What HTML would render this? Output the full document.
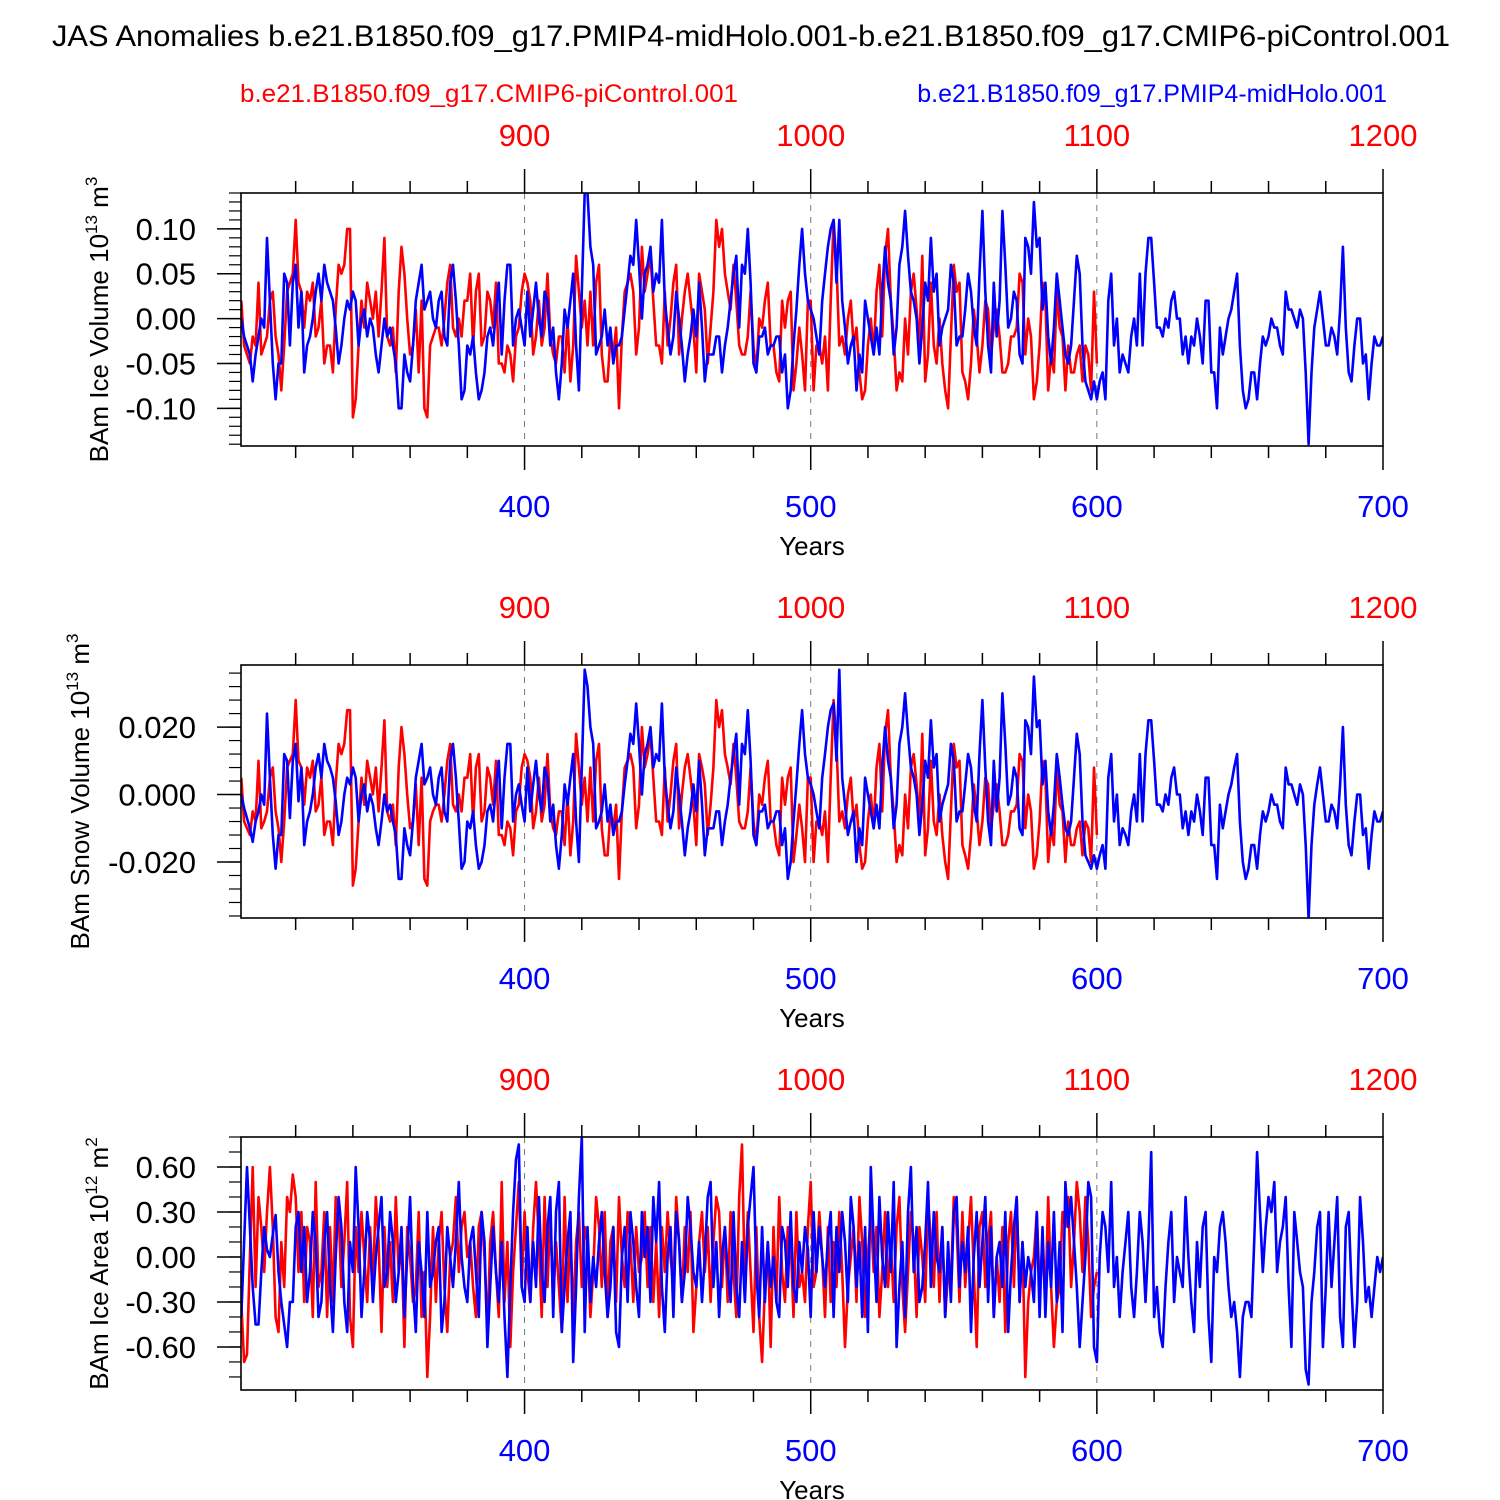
<!DOCTYPE html>
<html><head><meta charset="utf-8"><style>
html,body{margin:0;padding:0;background:#fff;}
svg{display:block;font-family:"Liberation Sans",sans-serif;}
</style></head><body>
<svg id="chart" width="1500" height="1500" viewBox="0 0 1500 1500" xmlns="http://www.w3.org/2000/svg">
<text x="751" y="46" font-size="30" text-anchor="middle" textLength="1398" lengthAdjust="spacingAndGlyphs">JAS Anomalies b.e21.B1850.f09_g17.PMIP4-midHolo.001-b.e21.B1850.f09_g17.CMIP6-piControl.001</text>
<text x="240" y="102" font-size="25" fill="#ff0000" textLength="498" lengthAdjust="spacingAndGlyphs">b.e21.B1850.f09_g17.CMIP6-piControl.001</text>
<text x="1387" y="102" font-size="25" fill="#0000ff" text-anchor="end">b.e21.B1850.f09_g17.PMIP4-midHolo.001</text>
</svg>
<script>
// Years
const blueStart = 301;
const redStart = 801;
// Panel 1: ice volume (hundredths of 1e13 m3)
const iceVolBlue = [0,-2,-3,-4,-7,-4,-2,0,-1,9,2,-5,-9,-5,-5,5,4,-3,4,6,
-1,3,-6,-3,-2,0,3,5,2,6,4,3,2,-1,-5,-3,0,2,1,3,
2,-3,0,1,-2,0,-1,-4,-6,-3,0,-2,-1,-3,-5,-10,-10,-4,-6,-7,
-3,2,4,6,1,2,3,0,-1,2,3,-2,-3,4,6,2,-3,-9,-8,-3,
-4,-2,-6,-9,-8,-6,-2,-1,-3,1,4,-4,2,6,6,-3,0,1,-1,-3,
3,-2,1,4,0,-2,3,2,-3,-1,-6,-9,-5,1,-1,2,5,-3,-8,3,
14,14,8,6,-4,-3,-2,1,-3,-1,-5,-3,-3,-2,1,4,7,6,11,6,
0,5,6,8,3,5,4,11,2,-1,-4,-2,3,0,-3,-7,-4,-2,1,-2,
4,-1,-7,-4,-4,-4,-2,-2,-6,-3,-1,2,5,7,-1,6,5,10,4,-5,
-6,-2,-2,-1,-4,-3,-3,-2,-2,-6,-4,-10,-8,-3,1,6,10,5,2,1,
0,-2,-4,2,5,8,10,11,4,11,2,-1,-5,-3,-2,-8,-4,-6,2,0,
-2,-4,-1,-4,3,8,4,2,-4,-1,6,8,12,7,3,2,0,-5,-1,4,
2,9,3,5,-3,-1,0,1,6,4,-3,-2,-2,1,5,3,-1,-3,5,12,
3,-3,-6,4,-2,2,12,6,-1,0,3,2,-4,-5,9,8,5,13,8,9,
1,4,-2,-5,-1,5,2,-1,-4,-5,-3,2,7,5,-3,-7,-8,-9,-7,-9,
-7,-6,-9,2,5,-3,0,-6,-4,-5,-6,-2,0,-3,5,-3,5,9,9,4,
-1,-1,-2,0,-1,2,3,0,0,-4,-2,-5,-2,-3,0,-2,-5,2,2,-6,
-6,-10,-1,-4,-2,0,1,3,5,-3,-8,-10,-9,-6,-6,-9,-5,-2,-3,-2,
0,-1,-1,-3,-4,3,1,1,0,-1,1,0,-6,-14,-6,-1,1,3,0,-3,
-3,-1,-2,-4,1,8,-1,-6,-7,-3,0,0,-5,-4,-9,-5,-2,-3,-3,-2];
const iceVolRed = [2,-3,-4,-5,-2,-3,4,-4,-3,-2,2,3,-2,-4,-8,-3,3,4,5,11,
4,3,-1,3,2,4,-2,-1,2,-5,-3,-3,-6,1,6,5,6,10,10,-11,
-9,-3,2,-1,4,2,0,3,-2,3,9,-2,-3,-1,-6,3,8,5,0,-4,
-3,1,-6,2,-10,-11,-3,-2,-1,-1,-3,0,4,6,-1,-2,0,-2,2,2,
5,-3,3,5,-3,-2,3,2,-1,4,-5,-5,-6,-3,-4,-7,-2,-1,3,5,
4,2,-4,-2,2,-3,-1,5,-2,-4,-5,-2,-2,-6,0,-7,-3,7,3,-1,
2,-3,3,-3,4,6,-4,-7,-7,-2,-4,-1,-10,-2,3,4,5,3,-4,-1,
8,3,5,7,2,-3,-3,-5,3,-3,0,4,6,-4,0,3,5,2,-1,-6,
5,3,1,-5,-1,3,11,8,10,5,3,1,6,2,-3,-4,-4,-2,3,-3,
-6,0,-1,2,4,-3,-3,-6,-7,2,-1,2,3,-8,-5,-1,-4,-8,2,2,
-8,-3,-3,-5,-2,-8,2,11,6,-3,-2,-4,0,2,-3,-1,-6,-9,-8,-3,
0,-4,3,6,-2,7,10,2,-2,-8,-6,-7,0,-4,3,5,1,-3,7,-7,
-4,4,-3,-5,0,-5,-8,-10,-2,6,3,4,-6,-7,-9,-5,1,-2,-6,-3,
2,1,-4,-1,1,-2,-6,-6,-5,-2,-2,-1,5,4,-4,0,-2,-9,-7,-3,
4,2,-8,-4,-6,3,-1,-2,-8,-3,-6,-6,-4,-3,-7,-3,-4,-8,3,-5];
// Panel 2: snow volume (thousandths of 1e13 m3)
const snowVolBlue = [0,-4,-7,-10,-14,-8,-5,0,-3,24,5,-12,-22,-12,-12,12,10,-7,10,15,
-2,8,-15,-8,-5,0,8,12,5,15,10,8,5,-2,-12,-8,0,5,3,8,
5,-8,0,3,-5,0,-3,-10,-15,-8,0,-5,-3,-8,-12,-25,-25,-10,-15,-18,
-8,5,10,15,3,5,8,0,-3,5,8,-5,-8,10,15,5,-8,-22,-20,-8,
-10,-5,-15,-22,-20,-15,-5,-3,-8,3,10,-10,5,15,15,-8,0,3,-3,-8,
8,-5,3,10,0,-5,8,5,-8,-3,-15,-22,-12,3,-3,5,12,-8,-20,8,
37,32,20,15,-10,-8,-5,3,-8,-3,-12,-8,-8,-5,3,10,18,15,27,15,
0,12,15,20,8,12,10,27,5,-3,-10,-5,8,0,-8,-18,-10,-5,3,-5,
10,-3,-18,-10,-10,-10,-5,-5,-15,-8,-3,5,12,18,-3,15,12,25,10,-12,
-15,-5,-5,-3,-10,-8,-8,-5,-5,-15,-10,-25,-20,-8,3,15,25,12,5,3,
0,-5,-10,5,12,20,25,27,10,37,5,-3,-12,-8,-5,-20,-10,-15,5,0,
-5,-10,-3,-10,8,20,10,5,-10,-3,15,20,30,18,8,5,0,-12,-3,10,
5,22,8,12,-8,-3,0,3,15,10,-8,-5,-5,3,12,8,-3,-8,12,28,
8,-8,-15,10,-5,5,30,15,-3,0,8,5,-10,-12,22,20,12,35,20,22,
3,10,-5,-12,-3,12,5,-3,-10,-12,-8,5,18,12,-8,-18,-20,-22,-18,-22,
-18,-15,-22,5,12,-8,0,-15,-10,-12,-15,-5,0,-8,12,-8,12,22,22,10,
-3,-3,-5,0,-3,5,8,0,0,-10,-5,-12,-5,-8,0,-5,-12,5,5,-15,
-15,-25,-3,-10,-5,0,3,8,12,-8,-20,-25,-22,-15,-15,-22,-12,-5,-8,-5,
0,-3,-3,-8,-10,8,3,3,0,-3,3,0,-15,-37,-15,-3,3,8,0,-8,
-8,-3,-5,-10,3,20,-3,-15,-18,-8,0,0,-12,-10,-22,-12,-5,-8,-8,-5];
const snowVolRed = [5,-8,-10,-12,-5,-8,10,-10,-8,-5,5,8,-5,-10,-20,-8,8,10,12,28,
10,8,-3,8,5,10,-5,-3,5,-12,-8,-8,-15,3,15,12,15,25,25,-27,
-22,-8,5,-3,10,5,0,8,-5,8,22,-5,-8,-3,-15,8,20,12,0,-10,
-8,3,-15,5,-25,-27,-8,-5,-3,-3,-8,0,10,15,-3,-5,0,-5,5,5,
12,-8,8,12,-8,-5,8,5,-3,10,-12,-12,-15,-8,-10,-18,-5,-3,8,12,
10,5,-10,-5,5,-8,-3,12,-5,-10,-12,-5,-5,-15,0,-18,-8,18,8,-3,
5,-8,8,-8,10,15,-10,-18,-18,-5,-10,-3,-25,-5,8,10,12,8,-10,-3,
20,8,12,18,5,-8,-8,-12,8,-8,0,10,15,-10,0,8,12,5,-3,-15,
12,8,3,-12,-3,8,28,20,25,12,8,3,15,5,-8,-10,-10,-5,8,-8,
-15,0,-3,5,10,-8,-8,-15,-18,5,-3,5,8,-20,-12,-3,-10,-20,5,5,
-20,-8,-8,-12,-5,-20,5,28,15,-8,-5,-10,0,5,-8,-3,-15,-22,-20,-8,
0,-10,8,15,-5,18,25,5,-5,-20,-15,-18,0,-10,8,12,3,-8,18,-18,
-10,10,-8,-12,0,-12,-20,-25,-5,15,8,10,-15,-18,-22,-12,3,-5,-15,-8,
5,3,-10,-3,3,-5,-15,-15,-12,-5,-5,-3,12,10,-10,0,-5,-22,-18,-8,
10,5,-20,-10,-15,8,-3,-5,-20,-8,-15,-15,-10,-8,-18,-8,-10,-20,8,-12];
// Panel 3: ice area (hundredths of 1e12 m2)
const iceAreaBlue = [-40,10,60,20,-20,-45,-45,-10,20,5,0,15,28,-10,-30,-45,-60,-30,-30,20,
30,-10,20,-30,-10,30,10,-40,-30,10,30,-20,-50,0,40,20,-30,-50,10,-10,
60,20,-40,-10,30,10,-30,0,20,40,-20,-10,30,10,-30,-10,20,-40,0,40,
-20,-50,10,-10,-40,30,-20,-10,10,20,-50,-30,20,0,-20,10,50,0,-20,-30,
10,20,-10,-40,30,10,-60,-20,20,-10,-30,10,-40,-80,-20,30,65,75,-20,-30,
20,-30,10,-20,40,-10,-30,20,40,-40,30,50,-50,-20,10,30,-70,-20,40,80,
-50,20,-30,0,-20,10,30,-10,-40,-20,20,-50,-60,0,20,-30,30,10,-20,-40,
30,0,20,-30,40,10,50,-20,-50,0,20,-40,30,10,-30,-10,40,20,-10,-20,
10,-30,0,40,50,-20,10,-40,0,20,-10,-30,30,-20,-40,10,-30,20,40,60,
-10,-40,20,-30,10,-20,0,-30,-40,20,10,-20,30,-20,-30,10,-10,20,5,-40,
30,-10,20,0,-20,10,30,-40,20,-10,30,10,-30,40,20,-20,10,-40,20,-50,
60,10,-30,40,0,-20,30,-10,50,-60,-20,10,-40,30,60,-10,20,-30,-20,10,
50,-20,30,0,-10,20,-40,10,-30,30,40,-20,10,-10,20,-50,0,30,-20,10,
40,-30,20,-40,0,10,-20,30,-50,-10,20,40,-30,10,-20,0,-10,-30,30,-40,
20,-40,10,-20,30,-30,10,-50,50,20,40,10,-20,-60,-30,0,50,40,-60,-70,
0,30,20,-10,50,-20,0,-40,-10,10,30,-20,-40,-10,30,10,-30,10,70,-40,
-20,-50,-60,-20,10,30,-30,0,-10,-20,40,0,-30,-50,10,-20,20,30,-40,-70,
0,-10,20,30,10,-20,-40,-30,-50,-80,-40,-30,-30,-40,10,70,30,-10,20,40,
30,50,-10,10,20,40,-20,-60,30,10,-10,-20,-75,-85,-30,-10,20,30,-60,-20,
30,-20,10,40,-40,-60,20,30,-20,-60,-30,40,10,-30,-20,-40,-20,0,-10,0];
const iceAreaRed = [-30,-70,-65,0,60,-20,40,20,-10,30,60,20,-40,-50,10,-20,40,30,55,40,
-10,30,-30,20,10,-40,50,-20,-10,30,-40,20,-30,40,30,-20,10,50,-40,-60,
20,-10,30,0,-30,20,-20,40,10,-50,20,-20,10,-30,40,-10,10,-60,20,0,
-30,-20,30,-40,-10,-80,-40,20,-30,10,30,-20,-50,0,10,40,-10,20,30,0,
10,-20,-40,20,30,0,-50,10,30,-10,-40,50,-30,10,-60,-10,20,50,-20,30,
-10,-30,20,50,10,-40,40,-20,30,-30,10,-20,-50,40,-30,20,-40,10,30,-20,
20,10,-40,-10,40,20,-20,30,-40,10,20,-30,40,0,-20,30,10,-30,20,-10,
0,30,-20,20,-30,10,-40,20,-10,30,0,-20,40,10,-30,20,-10,30,-50,-20,
10,30,-10,20,-30,10,40,30,-20,20,-30,30,-10,-40,40,75,-20,30,-10,-50,
20,-40,-70,-20,10,-60,20,-30,40,-10,-30,20,10,-40,30,-20,-10,-30,20,50,
-20,-10,30,0,-40,20,-30,10,-20,30,-10,-60,-20,0,20,-30,40,10,-40,0,
30,-10,20,-40,-10,30,-20,10,-30,20,40,-20,-50,-10,30,10,-40,20,0,-30,
40,10,-20,30,-30,20,-40,-10,-20,40,20,-30,30,-20,10,40,-10,-60,20,30,
-20,10,30,-40,0,-30,20,-50,10,30,-20,40,-30,10,-80,-30,-10,0,30,-20,
10,-30,40,-20,-60,-30,-20,30,20,40,-20,10,50,30,-10,40,10,-40,-20,-10];
const yTickLabels1 = ["0.10","0.05","0.00","-0.05","-0.10"];
const yTickVals1 = [0.10,0.05,0,-0.05,-0.10];
const yTickLabels2 = ["0.020","0.000","-0.020"];
const yTickVals2 = [0.02,0,-0.02];
const yTickLabels3 = ["0.60","0.30","0.00","-0.30","-0.60"];
const yTickVals3 = [0.6,0.3,0,-0.3,-0.6];
const bottomTickVals = [400,500,600,700];
const topTickVals = [900,1000,1100,1200];

const NS="http://www.w3.org/2000/svg";
const svg=document.getElementById('chart');
function mk(tag,attrs,parent){const e=document.createElementNS(NS,tag);for(const k in attrs)e.setAttribute(k,attrs[k]);(parent||svg).appendChild(e);return e;}
const L=241,R=1383,H=253;
const xScale=y=>L+(y-300.9)*(R-L)/(700-300.9);

function panel(top,ymin,ymax,minorStep,tickVals,tickLabels,blue,red,unit,titleMain,sup,supUnit,key,titleX){
  const g=mk('g',{});
  
  
  const ys=v=>top+H-(v-ymin)/(ymax-ymin)*H;
  [400,500,600].forEach(y=>{
    const l=mk('line',{x1:xScale(y),x2:xScale(y),y1:top,y2:top+H,stroke:'#777','stroke-width':1,'stroke-dasharray':'6,6'},g);
    
    
  });
  for(let y=320;y<=700;y+=20){
    const major=y%100===0;const len=major?24:12;const x=xScale(y);
    const t1=mk('line',{x1:x,x2:x,y1:top+H,y2:top+H+len,stroke:'#000','stroke-width':1.5},g);
    
    
    const t2=mk('line',{x1:x,x2:x,y1:top,y2:top-len,stroke:'#000','stroke-width':1.5},g);
    
    
  }
  bottomTickVals.forEach(v=>{
    const t=mk('text',{x:xScale(v),y:top+H+71,'font-size':31,fill:'#0000ff','text-anchor':'middle'},g);t.textContent=v;
    
    
  });
  topTickVals.forEach(v=>{
    const t=mk('text',{x:xScale(v-500),y:top-47,'font-size':31,fill:'#ff0000','text-anchor':'middle'},g);t.textContent=v;
    
    
  });
  const xt=mk('text',{x:812,y:top+H+109,'font-size':26,'text-anchor':'middle'},g);xt.textContent='Years';
  
  
  const start=Math.ceil(ymin/minorStep);
  for(let i=start;i*minorStep<=ymax;i++){
    const v=i*minorStep;const yy=ys(v);
    const t=mk('line',{x1:L-12,x2:L,y1:yy,y2:yy,stroke:'#000','stroke-width':1.2},g);
    
    
  }
  tickVals.forEach((v,i)=>{
    const yy=ys(v);
    const t=mk('line',{x1:L-24,x2:L,y1:yy,y2:yy,stroke:'#000','stroke-width':1.5},g);
    
    
    const tx=mk('text',{x:196,y:yy+11,'font-size':31,'text-anchor':'end'},g);tx.textContent=tickLabels[i];
    
    
  });
  const ty=mk('text',{transform:`translate(${titleX},${top+H/2}) rotate(-90)`,'font-size':26,'text-anchor':'middle'},g);
  
  
  const s1=mk('tspan',{},ty);s1.textContent=titleMain+' 10';
  const s2=mk('tspan',{'font-size':17,dy:-11},ty);s2.textContent=sup;
  const s3=mk('tspan',{dy:11},ty);s3.textContent=' m';
  const s4=mk('tspan',{'font-size':17,dy:-11},ty);s4.textContent=supUnit;
  const cp=mk('clipPath',{id:'cp-'+key},g);mk('rect',{x:L,y:top,width:R-L,height:H},cp);
  const drawLine=(arr,st,off,color,name)=>{
    const pts=arr.map((v,i)=>xScale(st+i-off).toFixed(1)+','+ys(v*unit).toFixed(1)).join(' ');
    const pl=mk('polyline',{points:pts,fill:'none',stroke:color,'stroke-width':2.6,'stroke-linejoin':'round','clip-path':`url(#cp-${key})`},g);
    
    
  };
  drawLine(red,redStart,500,'#ff0000',key+'-picontrol-line');
  drawLine(blue,blueStart,0,'#0000ff',key+'-midholo-line');
  const fr=mk('rect',{x:L,y:top,width:R-L,height:H,fill:'none',stroke:'#000','stroke-width':1.6},g);
  
  
}
panel(193,-0.142,0.140,0.01,yTickVals1,yTickLabels1,iceVolBlue,iceVolRed,0.01,'BAm Ice Volume','13','3','ice-volume',108);
panel(665,-0.0366,0.0384,0.004,yTickVals2,yTickLabels2,snowVolBlue,snowVolRed,0.001,'BAm Snow Volume','13','3','snow-volume',89);
panel(1137,-0.887,0.80,0.1,yTickVals3,yTickLabels3,iceAreaBlue,iceAreaRed,0.01,'BAm Ice Area','12','2','ice-area',108);
</script>
</body></html>
